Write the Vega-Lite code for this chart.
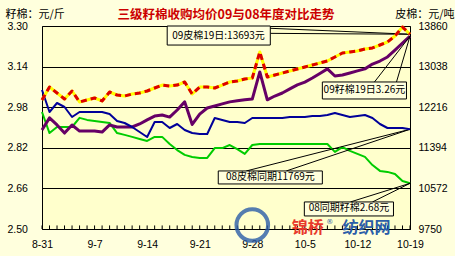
{
  "$schema": "https://vega.github.io/schema/vega-lite/v6.json",
  "width": 368,
  "height": 203,
  "autosize": {"type": "none"},
  "padding": {"left": 42, "top": 26, "right": 45, "bottom": 27},
  "background": "#FFFFDD",
  "title": {"text": "三级籽棉收购均价09与08年度对比走势", "color": "#CC0000", "font": "Noto Sans CJK SC", "fontSize": 12.5, "fontWeight": "bold", "anchor": "middle", "offset": -13},
  "config": {
    "view": {"fill": "#FFFFCC", "stroke": "#000000", "strokeWidth": 1},
    "axis": {"labelColor": "#000000", "labelFont": "Liberation Sans", "labelFontSize": 10.5, "titleColor": "#000000"}
  },
  "datasets": {
    "price": [
      {"day": 0, "date": "8-31", "z09": 2.890, "z08": 2.961, "p09": 12362, "p08": 12564},
      {"day": 1, "date": "9-1", "z09": 2.938, "z08": 2.878, "p09": 12625, "p08": 12119},
      {"day": 2, "date": "9-2", "z09": 2.910, "z08": 2.902, "p09": 12504, "p08": 12301},
      {"day": 3, "date": "9-3", "z09": 2.878, "z08": 2.902, "p09": 12382, "p08": 12220},
      {"day": 4, "date": "9-4", "z09": 2.910, "z08": 2.902, "p09": 12544, "p08": 12018},
      {"day": 5, "date": "9-5", "z09": 2.886, "z08": 2.938, "p09": 12321, "p08": 12119},
      {"day": 6, "date": "9-6", "z09": 2.886, "z08": 2.930, "p09": 12362, "p08": 12119},
      {"day": 7, "date": "9-7", "z09": 2.886, "z08": 2.926, "p09": 12402, "p08": 12119},
      {"day": 8, "date": "9-8", "z09": 2.882, "z08": 2.922, "p09": 12342, "p08": 12119},
      {"day": 9, "date": "9-9", "z09": 2.910, "z08": 2.918, "p09": 12524, "p08": 12078},
      {"day": 10, "date": "9-10", "z09": 2.902, "z08": 2.878, "p09": 12463, "p08": 11937},
      {"day": 11, "date": "9-11", "z09": 2.902, "z08": 2.871, "p09": 12443, "p08": 11896},
      {"day": 12, "date": "9-12", "z09": 2.902, "z08": 2.863, "p09": 12483, "p08": 11815},
      {"day": 13, "date": "9-13", "z09": 2.914, "z08": 2.855, "p09": 12504, "p08": 11714},
      {"day": 14, "date": "9-14", "z09": 2.930, "z08": 2.847, "p09": 12544, "p08": 11613},
      {"day": 15, "date": "9-15", "z09": 2.945, "z08": 2.863, "p09": 12605, "p08": 11916},
      {"day": 16, "date": "9-16", "z09": 2.949, "z08": 2.863, "p09": 12665, "p08": 11916},
      {"day": 17, "date": "9-17", "z09": 2.941, "z08": 2.835, "p09": 12645, "p08": 11795},
      {"day": 18, "date": "9-18", "z09": 2.969, "z08": 2.811, "p09": 12665, "p08": 11876},
      {"day": 19, "date": "9-19", "z09": 3.001, "z08": 2.792, "p09": 12726, "p08": 11754},
      {"day": 20, "date": "9-20", "z09": 2.912, "z08": 2.784, "p09": 12483, "p08": 11694},
      {"day": 21, "date": "9-21", "z09": 2.953, "z08": 2.780, "p09": 12625, "p08": 11673},
      {"day": 22, "date": "9-22", "z09": 2.977, "z08": 2.780, "p09": 12625, "p08": 11673},
      {"day": 23, "date": "9-23", "z09": 2.985, "z08": 2.819, "p09": 12605, "p08": 11997},
      {"day": 24, "date": "9-24", "z09": 2.993, "z08": 2.819, "p09": 12665, "p08": 11957},
      {"day": 25, "date": "9-25", "z09": 3.001, "z08": 2.831, "p09": 12726, "p08": 11916},
      {"day": 26, "date": "9-26", "z09": 3.005, "z08": 2.815, "p09": 12746, "p08": 11916},
      {"day": 27, "date": "9-27", "z09": 3.009, "z08": 2.796, "p09": 12787, "p08": 11896},
      {"day": 28, "date": "9-28", "z09": 3.012, "z08": 2.831, "p09": 12807, "p08": 11997},
      {"day": 29, "date": "9-29", "z09": 3.119, "z08": 2.835, "p09": 13334, "p08": 11997},
      {"day": 30, "date": "9-30", "z09": 3.009, "z08": 2.835, "p09": 12827, "p08": 11997},
      {"day": 31, "date": "10-1", "z09": 3.024, "z08": 2.835, "p09": 12868, "p08": 11997},
      {"day": 32, "date": "10-2", "z09": 3.036, "z08": 2.835, "p09": 12908, "p08": 11997},
      {"day": 33, "date": "10-3", "z09": 3.052, "z08": 2.835, "p09": 12949, "p08": 12018},
      {"day": 34, "date": "10-4", "z09": 3.068, "z08": 2.835, "p09": 12989, "p08": 12018},
      {"day": 35, "date": "10-5", "z09": 3.079, "z08": 2.835, "p09": 13030, "p08": 12018},
      {"day": 36, "date": "10-6", "z09": 3.095, "z08": 2.835, "p09": 13070, "p08": 12038},
      {"day": 37, "date": "10-7", "z09": 3.113, "z08": 2.835, "p09": 13111, "p08": 12038},
      {"day": 38, "date": "10-8", "z09": 3.131, "z08": 2.835, "p09": 13151, "p08": 12058},
      {"day": 39, "date": "10-9", "z09": 3.103, "z08": 2.804, "p09": 13232, "p08": 12099},
      {"day": 40, "date": "10-10", "z09": 3.107, "z08": 2.823, "p09": 13313, "p08": 12058},
      {"day": 41, "date": "10-11", "z09": 3.115, "z08": 2.808, "p09": 13334, "p08": 12018},
      {"day": 42, "date": "10-12", "z09": 3.123, "z08": 2.796, "p09": 13354, "p08": 12038},
      {"day": 43, "date": "10-13", "z09": 3.131, "z08": 2.784, "p09": 13394, "p08": 12058},
      {"day": 44, "date": "10-14", "z09": 3.150, "z08": 2.752, "p09": 13415, "p08": 11997},
      {"day": 45, "date": "10-15", "z09": 3.162, "z08": 2.729, "p09": 13475, "p08": 11876},
      {"day": 46, "date": "10-16", "z09": 3.178, "z08": 2.725, "p09": 13536, "p08": 11795},
      {"day": 47, "date": "10-17", "z09": 3.205, "z08": 2.717, "p09": 13658, "p08": 11795},
      {"day": 48, "date": "10-18", "z09": 3.233, "z08": 2.689, "p09": 13840, "p08": 11795},
      {"day": 49, "date": "10-19", "z09": 3.26, "z08": 2.68, "p09": 13693, "p08": 11769}
    ],
    "boxes": [
      {"label": "09皮棉19日:13693元", "x0": 16.67, "x1": 30.4, "y0": 3.30, "y1": 3.225, "tx": 23.5, "ty": 3.2625},
      {"label": "09籽棉19日3.26元", "x0": 37.33, "x1": 48.53, "y0": 3.0794, "y1": 3.0124, "tx": 42.93, "ty": 3.046},
      {"label": "08皮棉同期11769元", "x0": 23.47, "x1": 37.33, "y0": 2.7287, "y1": 2.6775, "tx": 30.4, "ty": 2.703},
      {"label": "08同期籽棉2.68元", "x0": 34.93, "x1": 46.8, "y0": 2.6066, "y1": 2.5514, "tx": 40.87, "ty": 2.582}
    ],
    "leaders": [
      {"x0": 30.4, "y0": 3.291, "x1": 49, "y1": 3.2675},
      {"x0": 30.4, "y0": 3.271, "x1": 49, "y1": 3.2675},
      {"x0": 44.27, "y0": 3.0794, "x1": 49, "y1": 3.26},
      {"x0": 47.2, "y0": 3.0794, "x1": 49, "y1": 3.26},
      {"x0": 27.2, "y0": 2.7287, "x1": 49, "y1": 2.893},
      {"x0": 32.53, "y0": 2.7287, "x1": 49, "y1": 2.893},
      {"x0": 41.07, "y0": 2.6066, "x1": 49, "y1": 2.68},
      {"x0": 44.0, "y0": 2.6066, "x1": 49, "y1": 2.68}
    ]
  },
  "layer": [
    {
      "layer": [
        {
          "data": {"name": "price"},
          "mark": {"type": "line", "color": "#00CC00", "strokeWidth": 2, "strokeJoin": "round"},
          "encoding": {
            "x": {"field": "day", "type": "quantitative", "title": null,
              "scale": {"domain": [0, 49], "nice": false, "zero": false},
              "axis": {
                "values": [0, 7, 14, 21, 28, 35, 42, 49],
                "labelExpr": "datum.value == 0 ? '8-31' : datum.value == 7 ? '9-7' : datum.value == 14 ? '9-14' : datum.value == 21 ? '9-21' : datum.value == 28 ? '9-28' : datum.value == 35 ? '10-5' : datum.value == 42 ? '10-12' : '10-19'",
                "labelOverlap": false, "labelFlush": false, "grid": false,
                "domain": true, "domainColor": "#000000", "ticks": false,
                "labelPadding": 10
              }},
            "y": {"field": "z08", "type": "quantitative", "title": "籽棉：元/斤",
              "scale": {"domain": [2.5, 3.3], "nice": false, "zero": false},
              "axis": {
                "values": [2.5, 2.58, 2.66, 2.74, 2.82, 2.9, 2.98, 3.06, 3.14, 3.22, 3.3],
                "format": ".2f", "labelAlign": "left", "labelPadding": 35, "ticks": false, "domain": false,
                "grid": true, "gridColor": "#000000", "gridOpacity": 1, "gridWidth": 1,
                "titleAngle": 0, "titleX": -37, "titleY": -12, "titleAlign": "left", "titleBaseline": "middle",
                "titleFont": "Noto Sans CJK SC", "titleFontSize": 11, "titleFontWeight": "normal", "titlePadding": 0
              }}
          }
        },
        {
          "data": {"name": "price"},
          "mark": {"type": "rule", "color": "#000000", "strokeWidth": 1},
          "encoding": {
            "x": {"field": "day", "type": "quantitative", "title": null},
            "y": {"datum": 2.5, "type": "quantitative", "title": "籽棉：元/斤"},
            "y2": {"datum": 2.514}
          }
        },
        {
          "data": {"name": "price"},
          "mark": {"type": "line", "color": "#660066", "strokeWidth": 3, "strokeJoin": "round"},
          "encoding": {
            "x": {"field": "day", "type": "quantitative", "title": null},
            "y": {"field": "z09", "type": "quantitative", "title": "籽棉：元/斤"}
          }
        },
        {
          "data": {"name": "leaders"},
          "mark": {"type": "rule", "color": "#000000", "strokeWidth": 1},
          "encoding": {
            "x": {"field": "x0", "type": "quantitative", "title": null},
            "x2": {"field": "x1"},
            "y": {"field": "y0", "type": "quantitative", "title": "籽棉：元/斤"},
            "y2": {"field": "y1"}
          }
        },
        {
          "data": {"name": "boxes"},
          "mark": {"type": "rect", "fill": "#FFFFDD", "stroke": "#000000", "strokeWidth": 1},
          "encoding": {
            "x": {"field": "x0", "type": "quantitative", "title": null},
            "x2": {"field": "x1"},
            "y": {"field": "y0", "type": "quantitative", "title": "籽棉：元/斤"},
            "y2": {"field": "y1"}
          }
        },
        {
          "data": {"name": "boxes"},
          "mark": {"type": "text", "font": "Noto Sans CJK SC", "fontSize": 10, "color": "#000000", "align": "center", "baseline": "middle"},
          "encoding": {
            "x": {"field": "tx", "type": "quantitative", "title": null},
            "y": {"field": "ty", "type": "quantitative", "title": "籽棉：元/斤"},
            "text": {"field": "label"}
          }
        }
      ]
    },
    {
      "layer": [
        {
          "data": {"name": "price"},
          "mark": {"type": "line", "color": "#000099", "strokeWidth": 2, "strokeJoin": "round"},
          "encoding": {
            "x": {"field": "day", "type": "quantitative", "title": null},
            "y": {"field": "p08", "type": "quantitative", "title": "皮棉：元/吨",
              "scale": {"domain": [9750, 13860], "nice": false, "zero": false},
              "axis": {
                "orient": "right",
                "values": [9750, 10161, 10572, 10983, 11394, 11805, 12216, 12627, 13038, 13449, 13860],
                "format": "d", "labelPadding": 8, "ticks": false, "domain": false, "grid": false,
                "titleAngle": 0, "titleX": 44, "titleY": -12, "titleAlign": "right", "titleBaseline": "middle",
                "titleFont": "Noto Sans CJK SC", "titleFontSize": 11, "titleFontWeight": "normal", "titlePadding": 0
              }}
          }
        },
        {
          "data": {"name": "price"},
          "mark": {"type": "line", "color": "#FFFF00", "strokeWidth": 3, "strokeJoin": "round"},
          "encoding": {
            "x": {"field": "day", "type": "quantitative", "title": null},
            "y": {"field": "p09", "type": "quantitative", "title": "皮棉：元/吨"}
          }
        },
        {
          "data": {"name": "price"},
          "mark": {"type": "line", "color": "#DD0000", "strokeWidth": 3, "strokeDash": [6, 4], "strokeJoin": "round"},
          "encoding": {
            "x": {"field": "day", "type": "quantitative", "title": null},
            "y": {"field": "p09", "type": "quantitative", "title": "皮棉：元/吨"}
          }
        },
        {
          "data": {"values": [{"day": 28, "value": 9830}]},
          "mark": {"type": "point", "shape": "circle", "filled": false, "size": 1000, "stroke": "#2B5DA8", "strokeWidth": 4, "opacity": 0.8},
          "encoding": {
            "x": {"field": "day", "type": "quantitative", "title": null},
            "y": {"field": "value", "type": "quantitative", "title": "皮棉：元/吨"}
          }
        },
        {
          "data": {"values": [{"text": "锦桥", "day": 35.4, "value": 9770}]},
          "mark": {"type": "text", "font": "Noto Sans CJK SC", "fontSize": 16, "fontWeight": "bold", "color": "#E8392B", "align": "center", "baseline": "middle"},
          "encoding": {
            "x": {"field": "day", "type": "quantitative", "title": null},
            "y": {"field": "value", "type": "quantitative", "title": "皮棉：元/吨"},
            "text": {"field": "text"}
          }
        },
        {
          "data": {"values": [{"text": "®", "day": 38.3, "value": 9900}]},
          "mark": {"type": "text", "font": "DejaVu Sans", "fontSize": 7, "color": "#2B5DA8", "align": "center", "baseline": "middle"},
          "encoding": {
            "x": {"field": "day", "type": "quantitative", "title": null},
            "y": {"field": "value", "type": "quantitative", "title": "皮棉：元/吨"},
            "text": {"field": "text"}
          }
        },
        {
          "data": {"values": [{"text": "纺织网", "day": 43.2, "value": 9770}]},
          "mark": {"type": "text", "font": "Noto Sans CJK SC", "fontSize": 16, "fontWeight": "bold", "color": "#2B5DA8", "align": "center", "baseline": "middle"},
          "encoding": {
            "x": {"field": "day", "type": "quantitative", "title": null},
            "y": {"field": "value", "type": "quantitative", "title": "皮棉：元/吨"},
            "text": {"field": "text"}
          }
        }
      ]
    }
  ],
  "resolve": {"scale": {"y": "independent"}, "axis": {"y": "independent"}}
}
